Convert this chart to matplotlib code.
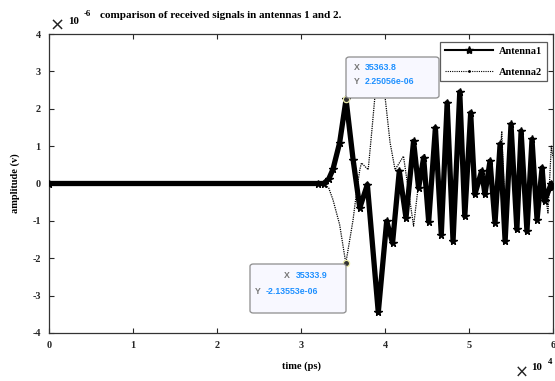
import matplotlib
matplotlib.use("Agg")
import matplotlib.pyplot as plt
from matplotlib.lines import Line2D
from matplotlib.patches import FancyBboxPatch
from matplotlib.ticker import FuncFormatter, FixedLocator

# ---- data (time in ps, amplitude in microvolts) ----
t1 = [0, 32000, 32700, 33300, 33800, 34600, 35363.8, 36200, 37000, 37900, 39200,
      40200, 40900, 41700, 42500, 43400, 44000, 44600, 45200, 46000, 46700,
      47400, 48100, 48900, 49500, 50200, 50700, 51500, 51900, 52500, 53100,
      53700, 54300, 55000, 55700, 56200, 56900, 57500, 58100, 58700, 59000,
      59800, 60000]
a1 = [0, 0, 0.0, 0.12, 0.375, 1.09, 2.25056, 0.64, -0.65, -0.03, -3.45,
      -1.01, -1.59, 0.33, -0.92, 1.13, -0.12, 0.69, -1.02, 1.49, -1.37,
      2.16, -1.55, 2.45, -0.88, 1.89, -0.29, 0.33, -0.29, 0.6, -1.05,
      1.05, -1.55, 1.58, -1.23, 1.40, -1.28, 1.18, -0.97, 0.42, -0.47,
      0.0, -0.1]

t2 = [0, 32000, 32700, 33300, 33800, 34600, 35333.9, 36200, 36600, 37000, 37200,
      38000, 38450, 38800, 39400, 40000, 40600, 41200, 42200, 43400, 44100,
      44700, 45300, 46100, 46800, 47500, 48200, 49000, 49600, 50300, 50800,
      51600, 52000, 52600, 53200, 53900, 54400, 55100, 55800, 56300, 57000,
      57600, 58200, 58700, 59400, 59800, 60000]
a2 = [0, 0, -0.0, -0.12, -0.43, -1.1, -2.13553, -0.97, -0.25, 0.37, 0.55,
      0.37, 1.45, 2.33, 3.2, 2.33, 1.1, 0.37, 0.73, -1.14, 0.2,
      0.8, -0.9, 1.4, -1.3, 2.1, -1.5, 2.35, -0.8, 1.8, -0.3,
      0.3, -0.3, 0.55, -1.0, 1.40, -1.5, 1.5, -1.2, 1.35, -1.25,
      1.1, -0.9, 0.3, -0.79, 1.0, 0.7]

x_ticks = [0, 10000, 20000, 30000, 40000, 50000, 60000]
y_ticks = [-4, -3, -2, -1, 0, 1, 2, 3, 4]
series_names = ["Antenna1", "Antenna2"]
title = "comparison of received signals in antennas 1 and 2."
xlabel = "time (ps)"
ylabel = "amplitude (v)"
tip1_idx = 6   # datatip on Antenna1
tip2_idx = 6   # datatip on Antenna2

SERIF = "Liberation Serif"
plt.rcParams["font.family"] = [SERIF, "DejaVu Serif"]

W, H = 555, 381
fig = plt.figure(figsize=(W / 100, H / 100), dpi=100)
ax = fig.add_axes([49 / W, 1 - 333 / H, (553 - 49) / W, (333 - 34) / H])

y1 = [v * 1e-6 for v in a1]
y2 = [v * 1e-6 for v in a2]

ax.plot(t2, y2, color="black", lw=0.9, linestyle=(0, (1, 0.8)), zorder=2)
ax.plot(t1, y1, color="black", lw=3.8, marker="*", ms=5.5, zorder=3,
        solid_joinstyle="round")

ax.set_xlim(0, 60000)
ax.set_ylim(-4e-6, 4e-6)
ax.xaxis.set_major_locator(FixedLocator(x_ticks))
ax.yaxis.set_major_locator(FixedLocator([v * 1e-6 for v in y_ticks]))
ax.xaxis.set_major_formatter(FuncFormatter(lambda v, p: f"{v / 1e4:g}"))
ax.yaxis.set_major_formatter(FuncFormatter(lambda v, p: f"{round(v * 1e6):d}"))
ax.tick_params(direction="in", length=3.5, width=0.8, top=True, right=True,
               labelsize=7.4, colors="#262626", pad=6)
for lab in ax.get_xticklabels() + ax.get_yticklabels():
    lab.set_fontweight("bold")
for s in ax.spines.values():
    s.set_color("#333333")
    s.set_linewidth(0.9)

ax.set_xlabel(xlabel, fontsize=7.5, fontweight="bold", labelpad=8)
ax.set_ylabel(ylabel, fontsize=7.5, fontweight="bold", labelpad=9)

fig.text(221 / W, 1 - 16 / H, title, ha="center", va="center",
         fontsize=8.0, fontweight="bold")

# exponent labels
fig.text(57 / W, 1 - 26 / H, "×", ha="center", va="center", fontsize=13,
         family="DejaVu Sans", color="#222222")
fig.text(74 / W, 1 - 21 / H, "10", ha="center", va="center", fontsize=7.8,
         fontweight="bold")
fig.text(87 / W, 1 - 14 / H, "-6", ha="center", va="center", fontsize=6.3,
         fontweight="bold")
fig.text(522 / W, 1 - 373 / H, "×", ha="center", va="center", fontsize=12,
         family="DejaVu Sans", color="#222222")
fig.text(537 / W, 1 - 368 / H, "10", ha="center", va="center", fontsize=7.8,
         fontweight="bold")
fig.text(550 / W, 1 - 362 / H, "4", ha="center", va="center", fontsize=6.3,
         fontweight="bold")

# legend
h1 = Line2D([], [], color="black", lw=1.5, marker="*", ms=6)
h2 = Line2D([], [], color="black", lw=0.8, linestyle=(0, (1, 1)), marker=".", ms=2)
leg = fig.legend([h1, h2], series_names, loc="upper right",
                 bbox_to_anchor=(547 / W, 1 - 42 / H),
                 frameon=True, fancybox=False, handlelength=4.6,
                 labelspacing=1.1, borderpad=0.45, handletextpad=0.6,
                 borderaxespad=0,
                 prop={"family": SERIF, "weight": "bold", "size": 7.5})
leg.get_frame().set_edgecolor("#333333")
leg.get_frame().set_linewidth(0.9)

# datatips
BLUE = "#1e90ff"
GRAY = "#777777"
SANS = "Liberation Sans"
TFS = 6.3


def tip_box(x0, y0, x1, y1):
    box = FancyBboxPatch((x0 / W, 1 - y1 / H), (x1 - x0) / W, (y1 - y0) / H,
                         boxstyle="round,pad=0,rounding_size=0.006",
                         transform=fig.transFigure, facecolor="#f8f8ff",
                         edgecolor="#8c8c8c", lw=0.9, zorder=10)
    fig.add_artist(box)


def tip_text(x, y, s, color):
    fig.text(x / W, 1 - y / H, s, color=color, fontsize=TFS, family=SANS,
             fontweight="bold", va="center", zorder=11)


tip_box(346, 57, 439, 98)
tip_text(354, 67, "X", GRAY)
tip_text(365, 67, f"{t1[tip1_idx]:.1f}", BLUE)
tip_text(354, 82, "Y", GRAY)
tip_text(365, 82, f"{a1[tip1_idx] * 1e-6:g}", BLUE)

tip_box(250, 264, 346, 313)
tip_text(284, 276, "X", GRAY)
tip_text(296, 276, f"{t2[tip2_idx]:.1f}", BLUE)
tip_text(255, 291, "Y", GRAY)
tip_text(266, 291, f"{a2[tip2_idx] * 1e-6:g}", BLUE)

ax.plot([t1[tip1_idx]], [y1[tip1_idx]], "o", ms=4.5, mfc="#333333",
        mec="#eeeeaa", mew=0.9, zorder=12, clip_on=False)
ax.plot([t2[tip2_idx]], [y2[tip2_idx]], "o", ms=4.5, mfc="#333333",
        mec="#eeeeaa", mew=0.9, zorder=12, clip_on=False)

fig.savefig("out.png", dpi=100, facecolor="white")
